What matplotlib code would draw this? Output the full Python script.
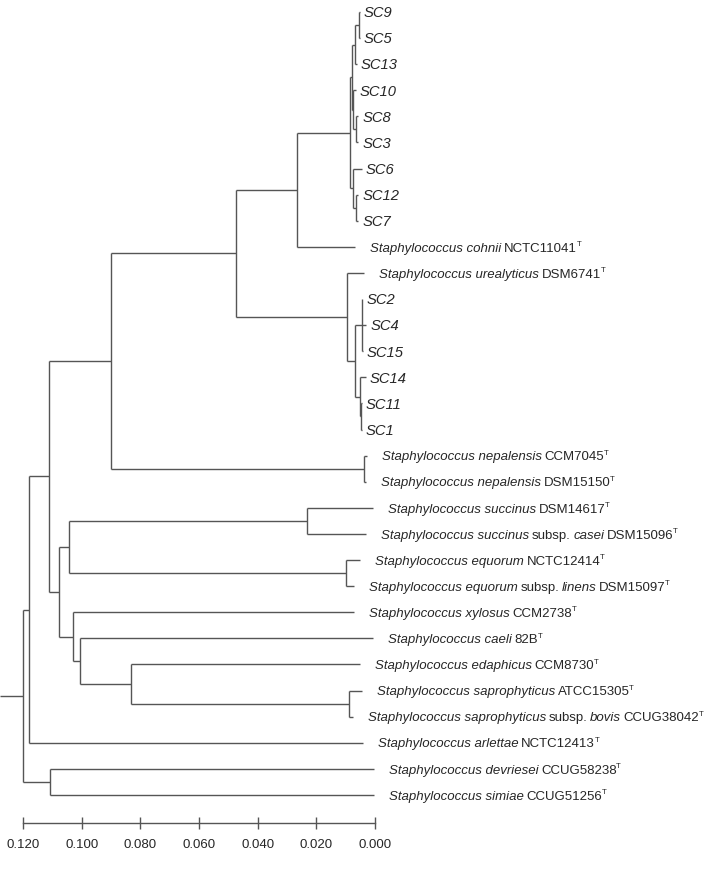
import matplotlib
matplotlib.use('Agg')
import matplotlib.pyplot as plt
from matplotlib.transforms import IdentityTransform

plt.rcParams['font.family'] = ['Liberation Sans', 'DejaVu Sans']

# ---------------- data ----------------
leaf_ids = ['SC9', 'SC5', 'SC13', 'SC10', 'SC8', 'SC3', 'SC6', 'SC12', 'SC7',
            'cohnii', 'urealyticus', 'SC2', 'SC4', 'SC15', 'SC14', 'SC11', 'SC1',
            'nepalensis1', 'nepalensis2', 'succinus', 'casei', 'equorum', 'linens',
            'xylosus', 'caeli', 'edaphicus', 'saprophyticus', 'bovis', 'arlettae',
            'devriesei', 'simiae']

# label segments: (text, style)  i = italic, r = roman, s = superscript
leaf_labels = [
    [('SC9', 'i')], [('SC5', 'i')], [('SC13', 'i')], [('SC10', 'i')],
    [('SC8', 'i')], [('SC3', 'i')], [('SC6', 'i')], [('SC12', 'i')], [('SC7', 'i')],
    [('Staphylococcus cohnii', 'i'), ('NCTC11041', 'r'), ('T', 's')],
    [('Staphylococcus urealyticus', 'i'), ('DSM6741', 'r'), ('T', 's')],
    [('SC2', 'i')], [('SC4', 'i')], [('SC15', 'i')], [('SC14', 'i')],
    [('SC11', 'i')], [('SC1', 'i')],
    [('Staphylococcus nepalensis', 'i'), ('CCM7045', 'r'), ('T', 's')],
    [('Staphylococcus nepalensis', 'i'), ('DSM15150', 'r'), ('T', 's')],
    [('Staphylococcus succinus', 'i'), ('DSM14617', 'r'), ('T', 's')],
    [('Staphylococcus succinus', 'i'), ('subsp.', 'r'), ('casei', 'i'),
     ('DSM15096', 'r'), ('T', 's')],
    [('Staphylococcus equorum', 'i'), ('NCTC12414', 'r'), ('T', 's')],
    [('Staphylococcus equorum', 'i'), ('subsp.', 'r'), ('linens', 'i'),
     ('DSM15097', 'r'), ('T', 's')],
    [('Staphylococcus xylosus', 'i'), ('CCM2738', 'r'), ('T', 's')],
    [('Staphylococcus caeli', 'i'), ('82B', 'r'), ('T', 's')],
    [('Staphylococcus edaphicus', 'i'), ('CCM8730', 'r'), ('T', 's')],
    [('Staphylococcus saprophyticus', 'i'), ('ATCC15305', 'r'), ('T', 's')],
    [('Staphylococcus saprophyticus', 'i'), ('subsp.', 'r'), ('bovis', 'i'),
     ('CCUG38042', 'r'), ('T', 's')],
    [('Staphylococcus arlettae', 'i'), ('NCTC12413', 'r'), ('T', 's')],
    [('Staphylococcus devriesei', 'i'), ('CCUG58238', 'r'), ('T', 's')],
    [('Staphylococcus simiae', 'i'), ('CCUG51256', 'r'), ('T', 's')],
]

# distance of each leaf tip from the 0.000 end of the scale
leaf_tip = [0.0053, 0.0053, 0.0062, 0.0066, 0.0058, 0.0058, 0.0045, 0.0058, 0.0058,
            0.0068, 0.0037, 0.0044, 0.0030, 0.0042, 0.0032, 0.0046, 0.0046,
            0.0027, 0.0030, 0.0007, 0.0030, 0.0051, 0.0072,
            0.0072, 0.0007, 0.0051, 0.0045, 0.0076, 0.0041,
            0.0004, 0.0004]

# internal nodes: name, children, height (distance)
node_names = ['n1', 'n2', 'n4', 'n3', 'n5', 'n6', 'n7', 'n8', 'E',
              'H', 'J', 'I', 'G', 'F', 'D', 'K', 'C',
              'N1', 'N2', 'M', 'S', 'R', 'Q', 'P', 'L', 'B', 'A', 'T', 'root']
node_children = [
    ['SC9', 'SC5'], ['n1', 'SC13'], ['SC8', 'SC3'], ['SC10', 'n4'], ['n2', 'n3'],
    ['SC12', 'SC7'], ['SC6', 'n6'], ['n5', 'n7'], ['n8', 'cohnii'],
    ['SC2', 'SC4', 'SC15'], ['SC11', 'SC1'], ['SC14', 'J'], ['H', 'I'],
    ['urealyticus', 'G'], ['E', 'F'], ['nepalensis1', 'nepalensis2'], ['D', 'K'],
    ['succinus', 'casei'], ['equorum', 'linens'], ['N1', 'N2'],
    ['saprophyticus', 'bovis'], ['edaphicus', 'S'], ['caeli', 'R'], ['xylosus', 'Q'],
    ['M', 'P'], ['C', 'L'], ['B', 'arlettae'], ['devriesei', 'simiae'], ['A', 'T'],
]
node_height = [0.0055, 0.0068, 0.0066, 0.0075, 0.0079, 0.0064, 0.0077, 0.0084, 0.0266,
               0.0045, 0.0048, 0.0051, 0.0068, 0.0096, 0.0474, 0.0037, 0.0900,
               0.0232, 0.0099, 0.1043, 0.0090, 0.0832, 0.1006, 0.1030,
               0.1077, 0.1111, 0.1180, 0.1108, 0.1201]
root_branch = 0.0078

scale_ticks = [0.120, 0.100, 0.080, 0.060, 0.040, 0.020, 0.000]

# ---------------- drawing ----------------
LINE = '#555555'
TXT = '#262626'
FS = 9.5        # species labels
FS_SC = 10.6    # isolate labels
DPI = 100

fig = plt.figure(figsize=(7.08, 8.75), dpi=DPI)
ax = fig.add_axes([0, 0, 1, 1])
X_LEFT, X_RIGHT = 0.1279, -0.1135
ax.set_xlim(X_LEFT, X_RIGHT)
ax.set_ylim(33.07, -0.46)
ax.axis('off')

height = dict(zip(leaf_ids, leaf_tip))
height.update(dict(zip(node_names, node_height)))
children = dict(zip(node_names, node_children))
ypos = {lid: i for i, lid in enumerate(leaf_ids)}

def node_y(n):
    if n in ypos:
        return ypos[n]
    ys = [node_y(c) for c in children[n]]
    ypos[n] = (ys[0] + ys[-1]) / 2.0
    return ypos[n]

node_y('root')

lw = 1.0
for n in node_names:
    ch = children[n]
    ys = [ypos[c] for c in ch]
    ax.plot([height[n], height[n]], [min(ys), max(ys)], color=LINE, lw=lw,
            solid_capstyle='butt')
    for c in ch:
        ax.plot([height[n], height[c]], [ypos[c], ypos[c]], color=LINE, lw=lw,
                solid_capstyle='butt')
ax.plot([height['root'] + root_branch, height['root']], [ypos['root'], ypos['root']],
        color=LINE, lw=lw, solid_capstyle='butt')

# labels, drawn piece by piece in display coordinates
fig.canvas.draw()
renderer = fig.canvas.get_renderer()
pt = DPI / 72.0
for lid, parts, tip in zip(leaf_ids, leaf_labels, leaf_tip):
    is_sc = lid.startswith('SC')
    fs = FS_SC if is_sc else FS
    gap = 4 if is_sc else 15
    xd, yd = ax.transData.transform((tip, ypos[lid]))
    x = xd + gap
    base = yd - 0.36 * fs * pt
    first = True
    for txt, sty in parts:
        if sty == 's':
            t = ax.text(x - 0.5, base + 0.42 * fs * pt, txt, fontsize=fs * 0.6,
                        color=TXT, ha='left', va='baseline',
                        transform=IdentityTransform())
        else:
            if not first:
                x += 0.2 * fs * pt
            t = ax.text(x, base, txt, fontsize=fs, color=TXT, ha='left',
                        va='baseline', style='italic' if sty == 'i' else 'normal',
                        transform=IdentityTransform())
        x += t.get_window_extent(renderer).width
        first = False

# scale bar
ax2 = fig.add_axes([0, 52 / 875, 1, 1e-4])
ax2.set_xlim(X_LEFT, X_RIGHT)
ax2.patch.set_visible(False)
for s in ['top', 'left', 'right']:
    ax2.spines[s].set_visible(False)
ax2.spines['bottom'].set_bounds(scale_ticks[-1], scale_ticks[0])
ax2.spines['bottom'].set_color(LINE)
ax2.spines['bottom'].set_linewidth(1.0)
ax2.set_yticks([])
ax2.set_xticks(scale_ticks)
ax2.set_xticklabels(['%.3f' % t for t in scale_ticks])
ax2.tick_params(axis='x', direction='inout', length=9, width=1.0, color=LINE,
                labelsize=9.5, labelcolor=TXT, pad=7)

fig.savefig('out.png', dpi=DPI)
